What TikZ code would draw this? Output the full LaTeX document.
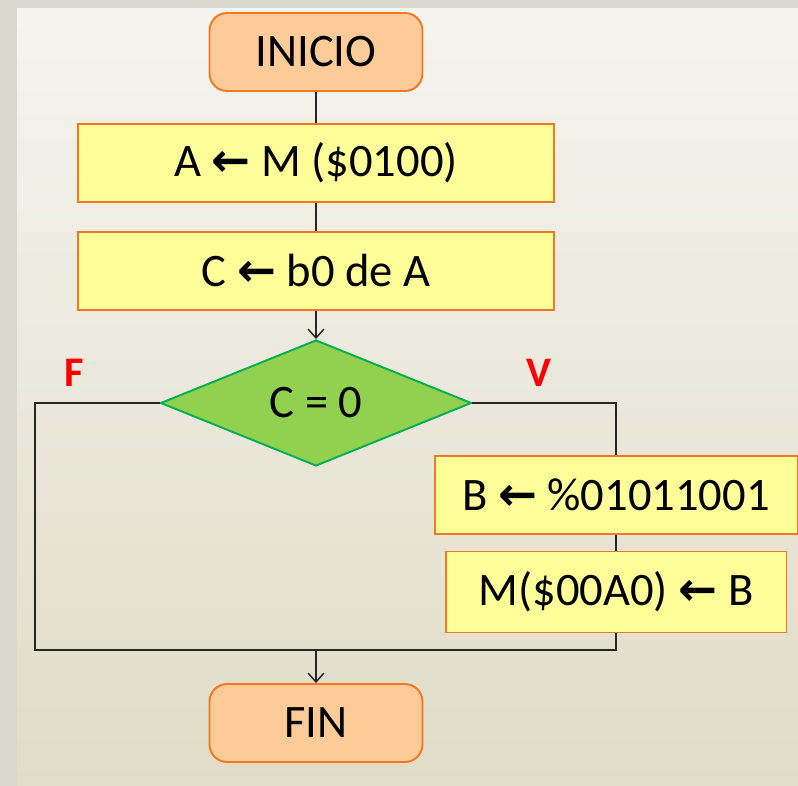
\documentclass[tikz,border=0pt]{standalone}
\usepackage{fontspec}
\setmainfont{Carlito}
\newfontfamily\arrowfont{DejaVu Sans}
\usepackage{tikz}
\usetikzlibrary{arrows.meta,calc,positioning,shapes.geometric}
\definecolor{panelgrey}{RGB}{218,216,206}
\definecolor{paneltop}{RGB}{245,244,239}
\definecolor{panelbot}{RGB}{224,220,199}
\definecolor{termfill}{RGB}{253,203,152}
\definecolor{procfill}{RGB}{255,255,153}
\definecolor{boxedge}{RGB}{244,120,32}
\definecolor{decfill}{RGB}{146,208,80}
\definecolor{decedge}{RGB}{0,176,80}
\newcommand{\asg}{{\arrowfont\bfseries\char"2190}}

\begin{document}
\begin{tikzpicture}[
  x=0.02cm,y=-0.02cm,
  txt/.style={font=\fontsize{26.5}{30}\selectfont,text=black},
  term/.style={txt,draw=boxedge,fill=termfill,rounded corners=10pt,line width=1.1pt,
    minimum width=4.26cm,minimum height=1.56cm,inner sep=0pt},
  proc/.style={txt,draw=boxedge,fill=procfill,line width=1.1pt,
    minimum height=1.56cm,inner sep=0pt},
  dec/.style={txt,shape=diamond,draw=decedge,fill=decfill,line width=1.1pt,
    minimum width=6.22cm,minimum height=2.52cm,inner sep=0pt},
  tag/.style={font=\fontsize{24}{28}\selectfont\bfseries,text=red},
  link/.style={line width=0.85pt,draw=black!85},
  arr/.style={link,-{Straight Barb[length=5pt,width=9pt]}}
]
% background panel
\fill[panelgrey] (0,0) rectangle (798,786);
\shade[top color=paneltop,bottom color=panelbot] (17,9) rectangle (798,786);
\useasboundingbox (0,0) rectangle (798,786);

\node[term] (ini) at (316,52) {INICIO};
\node[proc,minimum width=9.54cm] (rdA) at (316,163) {A \asg{} M (\$0100)};
\node[proc,minimum width=9.54cm] (bitC) at (316,271) {C \asg{} b0 de A};
\node[dec] (test) at (316,403) {C = 0};
\node[proc,minimum width=7.26cm] (setB) at (616,495) {B \asg{} \%01011001};
\node[proc,minimum width=6.82cm,minimum height=1.62cm] (wrM) at (616,592) {M(\$00A0) \asg{} B};
\node[term] (fin) at (316,723) {FIN};

\node[tag] (lblF) at (74,373) {F};
\node[tag] (lblV) at (539,373) {V};

\coordinate (lowL) at (35,650);
\coordinate (join) at (316,650);

\draw[link] (ini) -- (rdA);
\draw[link] (rdA) -- (bitC);
\draw[arr] (bitC) -- (test);
\draw[link] (test.west) -| (lowL) -- (join);
\draw[link] (test.east) -| (setB.north);
\draw[link] (setB) -- (wrM);
\draw[link] (wrM.south) |- (join);
\draw[arr] (join) -- (fin);
\end{tikzpicture}
\end{document}
